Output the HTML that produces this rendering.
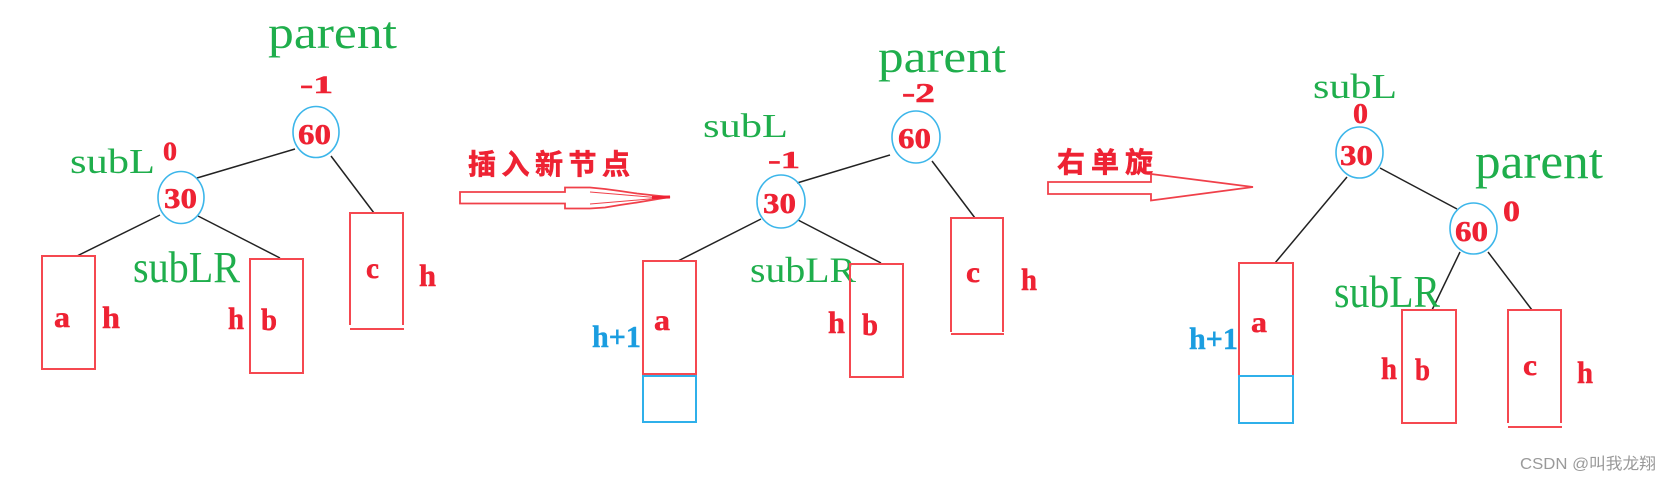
<!DOCTYPE html>
<html>
<head>
<meta charset="utf-8">
<style>
html,body{margin:0;padding:0;background:#fff;}
svg{display:block;}
.g{font-family:"Liberation Serif","Noto Serif CJK SC",serif;fill:#1fae4c;}
.r{font-family:"Liberation Serif","Noto Serif CJK SC",serif;font-weight:bold;fill:#ee2233;stroke:#ee2233;stroke-width:0.5;}
.bl{font-family:"Liberation Serif",serif;font-weight:bold;fill:#1a9de0;stroke:#1a9de0;stroke-width:0.4;}
.cn{font-family:"Liberation Sans","Noto Sans CJK SC","WenQuanYi Zen Hei",sans-serif;font-weight:bold;fill:#ee2233;stroke:#ee2233;stroke-width:0.6;}
.box{fill:none;stroke:#f54850;stroke-width:2;}
.bbox{fill:none;stroke:#2fb0ea;stroke-width:2;}
.ln{stroke:#222;stroke-width:1.5;fill:none;}
.cir{fill:none;stroke:#3cb6ea;stroke-width:1.6;}
</style>
</head>
<body>
<svg width="1671" height="480" viewBox="0 0 1671 480" xmlns="http://www.w3.org/2000/svg">
<rect width="1671" height="480" fill="#fff"/>

<!-- ============ PANEL 1 ============ -->
<line class="ln" x1="197" y1="178" x2="295" y2="149"/>
<line class="ln" x1="331" y1="156" x2="374" y2="213"/>
<line class="ln" x1="160" y1="215" x2="77" y2="256"/>
<line class="ln" x1="198" y1="216" x2="280" y2="258"/>

<ellipse class="cir" cx="316" cy="132" rx="23" ry="25.5"/>
<ellipse class="cir" cx="181" cy="197.5" rx="23" ry="26"/>

<text class="g" x="268" y="48" font-size="46" textLength="129" lengthAdjust="spacingAndGlyphs">parent</text>
<text class="r" x="300" y="93" font-size="25" textLength="33" lengthAdjust="spacingAndGlyphs">-1</text>
<text class="r" x="298" y="144" font-size="29" textLength="33" lengthAdjust="spacingAndGlyphs">60</text>
<text class="g" x="70" y="173" font-size="35" textLength="85" lengthAdjust="spacingAndGlyphs">subL</text>
<text class="r" x="163" y="160" font-size="26" textLength="14" lengthAdjust="spacingAndGlyphs">0</text>
<text class="r" x="164" y="208" font-size="29" textLength="33" lengthAdjust="spacingAndGlyphs">30</text>

<rect class="box" x="42" y="256" width="53" height="113"/>
<text class="r" x="54" y="327" font-size="30" textLength="16" lengthAdjust="spacingAndGlyphs">a</text>
<text class="r" x="102" y="328" font-size="31" textLength="18" lengthAdjust="spacingAndGlyphs">h</text>

<text class="g" x="133" y="282" font-size="44" textLength="107" lengthAdjust="spacingAndGlyphs">subLR</text>
<rect class="box" x="250" y="259" width="53" height="114"/>
<text class="r" x="228" y="329" font-size="31" textLength="16" lengthAdjust="spacingAndGlyphs">h</text>
<text class="r" x="261" y="330" font-size="31" textLength="16" lengthAdjust="spacingAndGlyphs">b</text>

<polyline class="box" points="350,325 350,213 403,213 403,325"/>
<line class="box" x1="350" y1="329" x2="404" y2="329"/>
<text class="r" x="366" y="278" font-size="30" textLength="13" lengthAdjust="spacingAndGlyphs">c</text>
<text class="r" x="419" y="286" font-size="31" textLength="17" lengthAdjust="spacingAndGlyphs">h</text>

<!-- arrow 1 -->
<text class="cn" x="468" y="174" font-size="28" textLength="162" lengthAdjust="spacing">插入新节点</text>
<polygon points="460,192 565,192 565,187.5 590,187.5 605,189 620,191 637,193.5 655,195.5 670,197 655,199.5 637,202.5 620,205 605,207.5 590,208.5 565,208.5 565,203.5 460,203.5" fill="none" stroke="#f0404a" stroke-width="1.8"/>
<polyline points="590,192 620,194.5 655,197.5" fill="none" stroke="#f0404a" stroke-width="1"/>
<polyline points="590,204 620,201.5 655,198.5" fill="none" stroke="#f0404a" stroke-width="1"/>
<line x1="652" y1="197.5" x2="670" y2="197" stroke="#ee2233" stroke-width="3"/>

<!-- ============ PANEL 2 ============ -->
<line class="ln" x1="797" y1="183" x2="890" y2="155"/>
<line class="ln" x1="932" y1="161" x2="975" y2="218"/>
<line class="ln" x1="761" y1="219" x2="678" y2="261"/>
<line class="ln" x1="798" y1="220" x2="881" y2="263"/>

<ellipse class="cir" cx="916" cy="137" rx="24" ry="26"/>
<ellipse class="cir" cx="781" cy="201.5" rx="24" ry="26.5"/>

<text class="g" x="878" y="72" font-size="46" textLength="128" lengthAdjust="spacingAndGlyphs">parent</text>
<text class="r" x="902" y="102" font-size="27" textLength="33" lengthAdjust="spacingAndGlyphs">-2</text>
<text class="r" x="898" y="148" font-size="29" textLength="33" lengthAdjust="spacingAndGlyphs">60</text>
<text class="g" x="703" y="137" font-size="34" textLength="85" lengthAdjust="spacingAndGlyphs">subL</text>
<text class="r" x="768" y="168" font-size="24" textLength="32" lengthAdjust="spacingAndGlyphs">-1</text>
<text class="r" x="763" y="213" font-size="29" textLength="33" lengthAdjust="spacingAndGlyphs">30</text>

<rect class="box" x="643" y="261" width="53" height="113"/>
<rect class="bbox" x="643" y="376" width="53" height="46"/>
<text class="r" x="654" y="330" font-size="30" textLength="16" lengthAdjust="spacingAndGlyphs">a</text>
<text class="bl" x="592" y="347" font-size="31" textLength="49" lengthAdjust="spacingAndGlyphs">h+1</text>

<text class="g" x="750" y="282" font-size="36" textLength="106" lengthAdjust="spacingAndGlyphs">subLR</text>
<rect class="box" x="850" y="264" width="53" height="113"/>
<text class="r" x="828" y="333" font-size="31" textLength="17" lengthAdjust="spacingAndGlyphs">h</text>
<text class="r" x="862" y="335" font-size="31" textLength="16" lengthAdjust="spacingAndGlyphs">b</text>

<polyline class="box" points="951,332 951,218 1003,218 1003,332"/>
<line class="box" x1="951" y1="334" x2="1004" y2="334"/>
<text class="r" x="966" y="282" font-size="30" textLength="14" lengthAdjust="spacingAndGlyphs">c</text>
<text class="r" x="1021" y="290" font-size="31" textLength="16" lengthAdjust="spacingAndGlyphs">h</text>

<!-- arrow 2 -->
<text class="cn" x="1057" y="172" font-size="28" textLength="96" lengthAdjust="spacing">右单旋</text>
<polygon points="1048,182 1151,182 1151,174 1253,187 1151,200.5 1151,194 1048,194" fill="none" stroke="#f0404a" stroke-width="1.8"/>

<!-- ============ PANEL 3 ============ -->
<line class="ln" x1="1380" y1="168" x2="1457" y2="209"/>
<line class="ln" x1="1347" y1="177" x2="1275" y2="263"/>
<line class="ln" x1="1460" y1="252" x2="1432" y2="310"/>
<line class="ln" x1="1488" y1="252" x2="1532" y2="310"/>

<ellipse class="cir" cx="1359.5" cy="152.5" rx="23.5" ry="25.5"/>
<ellipse class="cir" cx="1473.5" cy="228.5" rx="23.5" ry="25.5"/>

<text class="g" x="1313" y="98" font-size="35" textLength="84" lengthAdjust="spacingAndGlyphs">subL</text>
<text class="r" x="1353" y="123" font-size="29" textLength="15" lengthAdjust="spacingAndGlyphs">0</text>
<text class="r" x="1340" y="165" font-size="29" textLength="33" lengthAdjust="spacingAndGlyphs">30</text>
<text class="g" x="1475" y="178" font-size="50" textLength="128" lengthAdjust="spacingAndGlyphs">parent</text>
<text class="r" x="1455" y="241" font-size="28" textLength="33" lengthAdjust="spacingAndGlyphs">60</text>
<text class="r" x="1503" y="221" font-size="30" textLength="17" lengthAdjust="spacingAndGlyphs">0</text>

<rect class="box" x="1239" y="263" width="54" height="113"/>
<rect class="bbox" x="1239" y="376" width="54" height="47"/>
<text class="r" x="1251" y="332" font-size="30" textLength="16" lengthAdjust="spacingAndGlyphs">a</text>
<text class="bl" x="1189" y="349" font-size="31" textLength="49" lengthAdjust="spacingAndGlyphs">h+1</text>

<text class="g" x="1334" y="307" font-size="46" textLength="106" lengthAdjust="spacingAndGlyphs">subLR</text>
<rect class="box" x="1402" y="310" width="54" height="113"/>
<text class="r" x="1381" y="379" font-size="31" textLength="16" lengthAdjust="spacingAndGlyphs">h</text>
<text class="r" x="1415" y="380" font-size="31" textLength="15" lengthAdjust="spacingAndGlyphs">b</text>

<polyline class="box" points="1508,423 1508,310 1561,310 1561,423"/>
<line class="box" x1="1508" y1="427" x2="1562" y2="427"/>
<text class="r" x="1523" y="375" font-size="30" textLength="14" lengthAdjust="spacingAndGlyphs">c</text>
<text class="r" x="1577" y="383" font-size="31" textLength="16" lengthAdjust="spacingAndGlyphs">h</text>

<!-- watermark -->
<text x="1520" y="469" font-family="Liberation Sans, 'Noto Sans CJK SC', sans-serif" font-size="16" fill="#9a9a9a" textLength="136" lengthAdjust="spacingAndGlyphs">CSDN @叫我龙翔</text>
</svg>
</body>
</html>
